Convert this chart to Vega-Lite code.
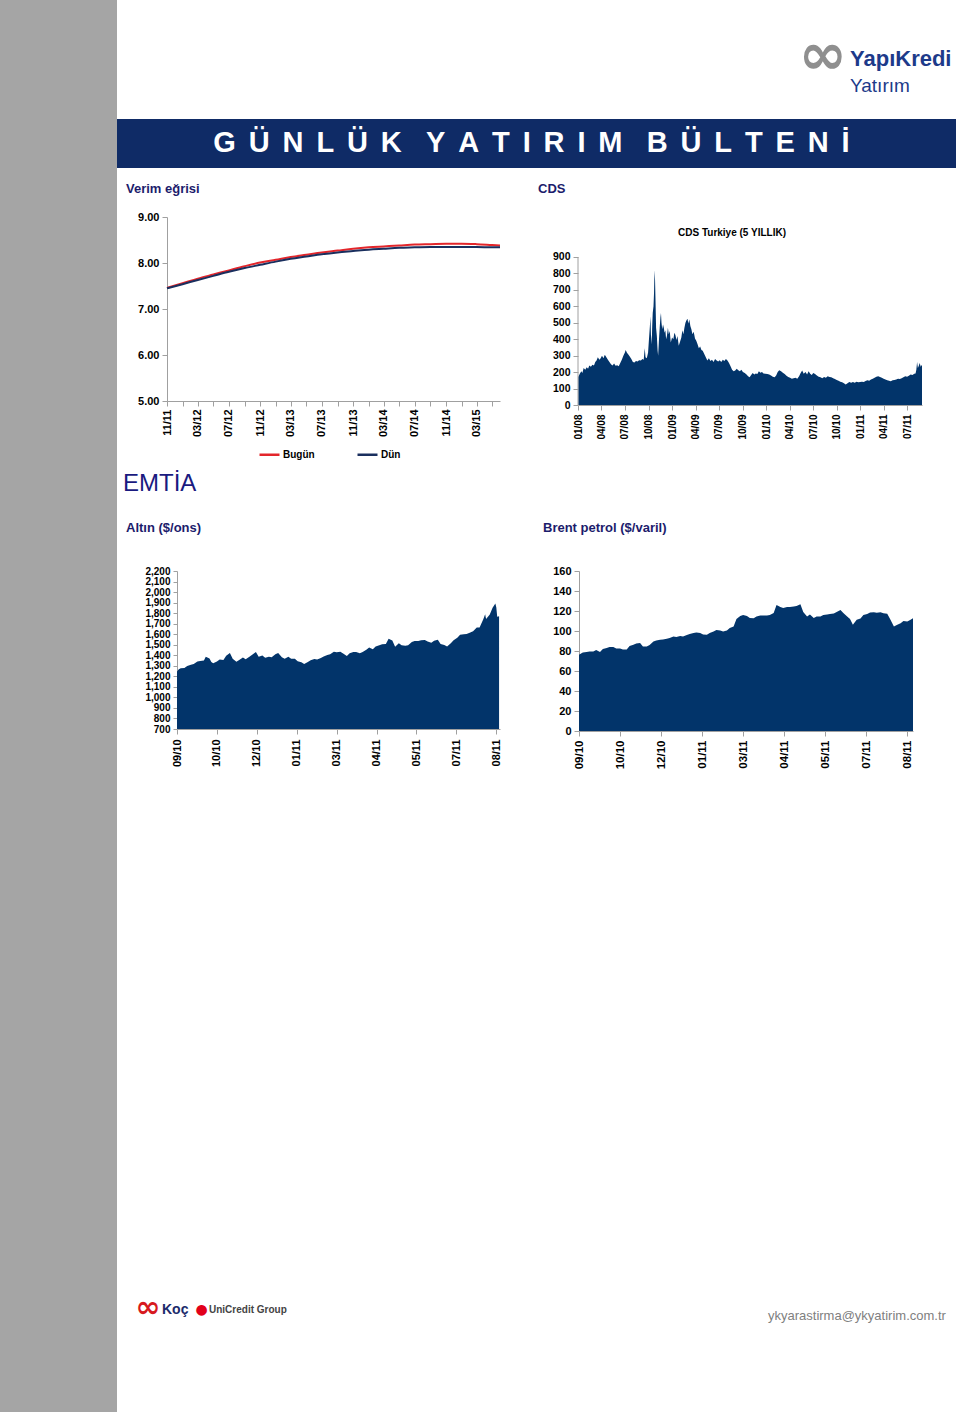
{
"$schema": "https://vega.github.io/schema/vega-lite/v6.json",
"padding": 0,
"background": "white",
"columns": 2,
"spacing": 0,
"bounds": "full",
"align": "each",
"data": {"values": [{"k": 0}]},
"datasets": {
"verim": [
{"d":"2011-11-01","s":"Bugün","v":7.46},{"d":"2012-01-01","s":"Bugün","v":7.56},{"d":"2012-03-01","s":"Bugün","v":7.66},{"d":"2012-05-01","s":"Bugün","v":7.75},{"d":"2012-07-01","s":"Bugün","v":7.84},{"d":"2012-09-01","s":"Bugün","v":7.93},{"d":"2012-11-01","s":"Bugün","v":8.01},{"d":"2013-01-01","s":"Bugün","v":8.07},{"d":"2013-03-01","s":"Bugün","v":8.13},{"d":"2013-05-01","s":"Bugün","v":8.18},{"d":"2013-07-01","s":"Bugün","v":8.23},{"d":"2013-09-01","s":"Bugün","v":8.27},{"d":"2013-11-01","s":"Bugün","v":8.31},{"d":"2014-01-01","s":"Bugün","v":8.34},{"d":"2014-03-01","s":"Bugün","v":8.36},{"d":"2014-05-01","s":"Bugün","v":8.38},{"d":"2014-07-01","s":"Bugün","v":8.40},{"d":"2014-09-01","s":"Bugün","v":8.41},{"d":"2014-11-01","s":"Bugün","v":8.42},{"d":"2015-01-01","s":"Bugün","v":8.42},{"d":"2015-03-01","s":"Bugün","v":8.41},{"d":"2015-05-01","s":"Bugün","v":8.39},{"d":"2015-06-01","s":"Bugün","v":8.38},
{"d":"2011-11-01","s":"Dün","v":7.45},{"d":"2012-01-01","s":"Dün","v":7.54},{"d":"2012-03-01","s":"Dün","v":7.63},{"d":"2012-05-01","s":"Dün","v":7.72},{"d":"2012-07-01","s":"Dün","v":7.81},{"d":"2012-09-01","s":"Dün","v":7.89},{"d":"2012-11-01","s":"Dün","v":7.96},{"d":"2013-01-01","s":"Dün","v":8.03},{"d":"2013-03-01","s":"Dün","v":8.09},{"d":"2013-05-01","s":"Dün","v":8.14},{"d":"2013-07-01","s":"Dün","v":8.19},{"d":"2013-09-01","s":"Dün","v":8.23},{"d":"2013-11-01","s":"Dün","v":8.26},{"d":"2014-01-01","s":"Dün","v":8.29},{"d":"2014-03-01","s":"Dün","v":8.31},{"d":"2014-05-01","s":"Dün","v":8.33},{"d":"2014-07-01","s":"Dün","v":8.34},{"d":"2014-09-01","s":"Dün","v":8.35},{"d":"2014-11-01","s":"Dün","v":8.35},{"d":"2015-01-01","s":"Dün","v":8.35},{"d":"2015-03-01","s":"Dün","v":8.35},{"d":"2015-05-01","s":"Dün","v":8.34},{"d":"2015-06-01","s":"Dün","v":8.34}
],
"cds": [
{"d":"2008-01-02","v":170},{"d":"2008-01-08","v":190},{"d":"2008-01-14","v":205},{"d":"2008-01-18","v":195},{"d":"2008-01-23","v":225},{"d":"2008-01-29","v":215},{"d":"2008-02-04","v":230},{"d":"2008-02-09","v":220},{"d":"2008-02-14","v":240},{"d":"2008-02-20","v":232},{"d":"2008-02-26","v":245},{"d":"2008-03-03","v":240},{"d":"2008-03-08","v":262},{"d":"2008-03-13","v":270},{"d":"2008-03-18","v":290},{"d":"2008-03-24","v":275},{"d":"2008-03-29","v":285},{"d":"2008-04-03","v":300},{"d":"2008-04-09","v":285},{"d":"2008-04-14","v":305},{"d":"2008-04-20","v":290},{"d":"2008-04-26","v":275},{"d":"2008-05-02","v":262},{"d":"2008-05-08","v":248},{"d":"2008-05-14","v":240},{"d":"2008-05-20","v":252},{"d":"2008-05-26","v":238},{"d":"2008-06-01","v":242},{"d":"2008-06-07","v":236},{"d":"2008-06-13","v":255},{"d":"2008-06-19","v":275},{"d":"2008-06-25","v":300},{"d":"2008-07-01","v":320},{"d":"2008-07-04","v":335},{"d":"2008-07-09","v":318},{"d":"2008-07-15","v":305},{"d":"2008-07-21","v":292},{"d":"2008-07-26","v":280},{"d":"2008-08-01","v":262},{"d":"2008-08-07","v":258},{"d":"2008-08-13","v":268},{"d":"2008-08-19","v":265},{"d":"2008-08-25","v":272},{"d":"2008-09-01","v":270},{"d":"2008-09-07","v":280},{"d":"2008-09-12","v":275},{"d":"2008-09-16","v":345},{"d":"2008-09-19","v":290},{"d":"2008-09-24","v":285},{"d":"2008-09-29","v":320},{"d":"2008-10-02","v":390},{"d":"2008-10-06","v":480},{"d":"2008-10-08","v":540},{"d":"2008-10-10","v":430},{"d":"2008-10-13","v":370},{"d":"2008-10-15","v":480},{"d":"2008-10-17","v":560},{"d":"2008-10-20","v":600},{"d":"2008-10-22","v":680},{"d":"2008-10-24","v":820},{"d":"2008-10-26","v":760},{"d":"2008-10-28","v":620},{"d":"2008-10-30","v":470},{"d":"2008-11-02","v":420},{"d":"2008-11-05","v":330},{"d":"2008-11-07","v":300},{"d":"2008-11-10","v":390},{"d":"2008-11-13","v":470},{"d":"2008-11-16","v":535},{"d":"2008-11-18","v":560},{"d":"2008-11-20","v":500},{"d":"2008-11-23","v":460},{"d":"2008-11-26","v":490},{"d":"2008-11-29","v":470},{"d":"2008-12-02","v":440},{"d":"2008-12-05","v":455},{"d":"2008-12-08","v":400},{"d":"2008-12-11","v":420},{"d":"2008-12-15","v":470},{"d":"2008-12-18","v":430},{"d":"2008-12-22","v":450},{"d":"2008-12-26","v":380},{"d":"2008-12-31","v":410},{"d":"2009-01-05","v":400},{"d":"2009-01-09","v":440},{"d":"2009-01-13","v":425},{"d":"2009-01-17","v":395},{"d":"2009-01-21","v":420},{"d":"2009-01-26","v":360},{"d":"2009-01-31","v":385},{"d":"2009-02-05","v":410},{"d":"2009-02-09","v":455},{"d":"2009-02-13","v":430},{"d":"2009-02-17","v":470},{"d":"2009-02-21","v":500},{"d":"2009-02-25","v":515},{"d":"2009-03-01","v":525},{"d":"2009-03-04","v":495},{"d":"2009-03-08","v":520},{"d":"2009-03-12","v":480},{"d":"2009-03-16","v":460},{"d":"2009-03-20","v":430},{"d":"2009-03-25","v":445},{"d":"2009-03-30","v":405},{"d":"2009-04-04","v":390},{"d":"2009-04-09","v":370},{"d":"2009-04-14","v":345},{"d":"2009-04-19","v":355},{"d":"2009-04-24","v":335},{"d":"2009-04-29","v":330},{"d":"2009-05-05","v":310},{"d":"2009-05-11","v":290},{"d":"2009-05-17","v":270},{"d":"2009-05-23","v":285},{"d":"2009-05-29","v":268},{"d":"2009-06-04","v":275},{"d":"2009-06-10","v":262},{"d":"2009-06-16","v":280},{"d":"2009-06-22","v":270},{"d":"2009-06-28","v":265},{"d":"2009-07-04","v":272},{"d":"2009-07-10","v":262},{"d":"2009-07-16","v":275},{"d":"2009-07-22","v":268},{"d":"2009-07-28","v":280},{"d":"2009-08-03","v":270},{"d":"2009-08-09","v":255},{"d":"2009-08-15","v":235},{"d":"2009-08-21","v":215},{"d":"2009-08-27","v":205},{"d":"2009-09-02","v":210},{"d":"2009-09-08","v":220},{"d":"2009-09-14","v":212},{"d":"2009-09-20","v":205},{"d":"2009-09-26","v":215},{"d":"2009-10-02","v":200},{"d":"2009-10-09","v":195},{"d":"2009-10-16","v":185},{"d":"2009-10-22","v":175},{"d":"2009-10-28","v":168},{"d":"2009-11-03","v":182},{"d":"2009-11-09","v":195},{"d":"2009-11-15","v":185},{"d":"2009-11-21","v":192},{"d":"2009-11-27","v":188},{"d":"2009-12-03","v":205},{"d":"2009-12-09","v":196},{"d":"2009-12-15","v":200},{"d":"2009-12-21","v":192},{"d":"2009-12-28","v":190},{"d":"2010-01-05","v":188},{"d":"2010-01-12","v":186},{"d":"2010-01-19","v":180},{"d":"2010-01-26","v":172},{"d":"2010-02-02","v":168},{"d":"2010-02-08","v":180},{"d":"2010-02-14","v":200},{"d":"2010-02-20","v":212},{"d":"2010-02-27","v":205},{"d":"2010-03-06","v":196},{"d":"2010-03-13","v":188},{"d":"2010-03-20","v":178},{"d":"2010-03-27","v":170},{"d":"2010-04-03","v":165},{"d":"2010-04-10","v":160},{"d":"2010-04-17","v":162},{"d":"2010-04-24","v":165},{"d":"2010-05-01","v":160},{"d":"2010-05-08","v":175},{"d":"2010-05-14","v":195},{"d":"2010-05-20","v":210},{"d":"2010-05-26","v":190},{"d":"2010-06-02","v":200},{"d":"2010-06-08","v":185},{"d":"2010-06-14","v":205},{"d":"2010-06-20","v":190},{"d":"2010-06-26","v":182},{"d":"2010-07-02","v":195},{"d":"2010-07-09","v":188},{"d":"2010-07-16","v":180},{"d":"2010-07-23","v":172},{"d":"2010-07-30","v":168},{"d":"2010-08-06","v":162},{"d":"2010-08-13","v":170},{"d":"2010-08-20","v":165},{"d":"2010-08-27","v":175},{"d":"2010-09-03","v":170},{"d":"2010-09-10","v":168},{"d":"2010-09-17","v":162},{"d":"2010-09-24","v":158},{"d":"2010-10-01","v":152},{"d":"2010-10-08","v":148},{"d":"2010-10-15","v":142},{"d":"2010-10-22","v":138},{"d":"2010-10-29","v":132},{"d":"2010-11-05","v":125},{"d":"2010-11-12","v":132},{"d":"2010-11-19","v":140},{"d":"2010-11-26","v":135},{"d":"2010-12-03","v":140},{"d":"2010-12-10","v":136},{"d":"2010-12-17","v":142},{"d":"2010-12-24","v":138},{"d":"2010-12-31","v":140},{"d":"2011-01-07","v":142},{"d":"2011-01-14","v":140},{"d":"2011-01-21","v":146},{"d":"2011-01-28","v":150},{"d":"2011-02-04","v":148},{"d":"2011-02-11","v":155},{"d":"2011-02-18","v":160},{"d":"2011-02-25","v":165},{"d":"2011-03-04","v":172},{"d":"2011-03-11","v":175},{"d":"2011-03-18","v":170},{"d":"2011-03-25","v":165},{"d":"2011-04-01","v":160},{"d":"2011-04-08","v":155},{"d":"2011-04-15","v":150},{"d":"2011-04-22","v":148},{"d":"2011-04-29","v":145},{"d":"2011-05-06","v":150},{"d":"2011-05-13","v":152},{"d":"2011-05-20","v":155},{"d":"2011-05-27","v":160},{"d":"2011-06-03","v":158},{"d":"2011-06-10","v":162},{"d":"2011-06-17","v":168},{"d":"2011-06-24","v":175},{"d":"2011-07-01","v":172},{"d":"2011-07-08","v":178},{"d":"2011-07-15","v":185},{"d":"2011-07-22","v":182},{"d":"2011-07-29","v":190},{"d":"2011-08-03","v":192},{"d":"2011-08-06","v":215},{"d":"2011-08-09","v":262},{"d":"2011-08-12","v":225},{"d":"2011-08-16","v":240},{"d":"2011-08-19","v":255},{"d":"2011-08-23","v":232},{"d":"2011-08-28","v":245}
],
"altin": [
{"d":"2010-09-13","v":1246},{"d":"2010-09-15","v":1268},{"d":"2010-09-17","v":1276},{"d":"2010-09-21","v":1279},{"d":"2010-09-24","v":1297},{"d":"2010-09-28","v":1309},{"d":"2010-10-01","v":1317},{"d":"2010-10-05","v":1340},{"d":"2010-10-08","v":1346},{"d":"2010-10-12","v":1350},{"d":"2010-10-14","v":1385},{"d":"2010-10-18","v":1370},{"d":"2010-10-20","v":1336},{"d":"2010-10-22","v":1325},{"d":"2010-10-26","v":1340},{"d":"2010-10-29","v":1359},{"d":"2010-11-02","v":1354},{"d":"2010-11-05","v":1396},{"d":"2010-11-09","v":1421},{"d":"2010-11-12","v":1368},{"d":"2010-11-16","v":1338},{"d":"2010-11-19","v":1355},{"d":"2010-11-23","v":1379},{"d":"2010-11-26","v":1362},{"d":"2010-11-30","v":1386},{"d":"2010-12-03","v":1405},{"d":"2010-12-07","v":1431},{"d":"2010-12-10","v":1387},{"d":"2010-12-14","v":1398},{"d":"2010-12-17","v":1376},{"d":"2010-12-21","v":1385},{"d":"2010-12-24","v":1381},{"d":"2010-12-28","v":1409},{"d":"2010-12-31","v":1421},{"d":"2011-01-04","v":1380},{"d":"2011-01-07","v":1368},{"d":"2011-01-11","v":1385},{"d":"2011-01-14","v":1367},{"d":"2011-01-18","v":1366},{"d":"2011-01-21","v":1343},{"d":"2011-01-25","v":1333},{"d":"2011-01-28","v":1318},{"d":"2011-02-01","v":1336},{"d":"2011-02-04","v":1353},{"d":"2011-02-08","v":1364},{"d":"2011-02-11","v":1361},{"d":"2011-02-15","v":1373},{"d":"2011-02-18","v":1388},{"d":"2011-02-22","v":1402},{"d":"2011-02-25","v":1410},{"d":"2011-03-01","v":1433},{"d":"2011-03-04","v":1429},{"d":"2011-03-08","v":1433},{"d":"2011-03-11","v":1416},{"d":"2011-03-15","v":1394},{"d":"2011-03-18","v":1418},{"d":"2011-03-22","v":1432},{"d":"2011-03-25","v":1431},{"d":"2011-03-29","v":1418},{"d":"2011-04-01","v":1430},{"d":"2011-04-05","v":1452},{"d":"2011-04-08","v":1474},{"d":"2011-04-12","v":1456},{"d":"2011-04-15","v":1484},{"d":"2011-04-19","v":1495},{"d":"2011-04-22","v":1504},{"d":"2011-04-26","v":1508},{"d":"2011-04-29","v":1556},{"d":"2011-05-03","v":1540},{"d":"2011-05-06","v":1480},{"d":"2011-05-10","v":1515},{"d":"2011-05-13","v":1495},{"d":"2011-05-17","v":1490},{"d":"2011-05-20","v":1494},{"d":"2011-05-24","v":1526},{"d":"2011-05-27","v":1536},{"d":"2011-05-31","v":1536},{"d":"2011-06-03","v":1543},{"d":"2011-06-07","v":1545},{"d":"2011-06-10","v":1530},{"d":"2011-06-14","v":1520},{"d":"2011-06-17","v":1539},{"d":"2011-06-21","v":1547},{"d":"2011-06-24","v":1507},{"d":"2011-06-28","v":1498},{"d":"2011-07-01","v":1483},{"d":"2011-07-05","v":1515},{"d":"2011-07-08","v":1542},{"d":"2011-07-12","v":1567},{"d":"2011-07-15","v":1594},{"d":"2011-07-19","v":1600},{"d":"2011-07-22","v":1601},{"d":"2011-07-26","v":1617},{"d":"2011-07-29","v":1628},{"d":"2011-08-02","v":1663},{"d":"2011-08-05","v":1664},{"d":"2011-08-09","v":1743},{"d":"2011-08-11","v":1790},{"d":"2011-08-12","v":1745},{"d":"2011-08-16","v":1786},{"d":"2011-08-19","v":1852},{"d":"2011-08-22","v":1891},{"d":"2011-08-23","v":1856},{"d":"2011-08-24","v":1765},{"d":"2011-08-26","v":1770}
],
"brent": [
{"d":"2010-09-13","v":76.3},{"d":"2010-09-17","v":78.5},{"d":"2010-09-21","v":79},{"d":"2010-09-24","v":79.5},{"d":"2010-09-28","v":79.6},{"d":"2010-10-01","v":81},{"d":"2010-10-05","v":79},{"d":"2010-10-08","v":82},{"d":"2010-10-12","v":83},{"d":"2010-10-15","v":84},{"d":"2010-10-19","v":84},{"d":"2010-10-22","v":82.5},{"d":"2010-10-26","v":82.5},{"d":"2010-10-29","v":81.5},{"d":"2010-11-02","v":81.5},{"d":"2010-11-05","v":85},{"d":"2010-11-09","v":86.2},{"d":"2010-11-12","v":87.5},{"d":"2010-11-16","v":88},{"d":"2010-11-19","v":84.5},{"d":"2010-11-23","v":84.5},{"d":"2010-11-26","v":86},{"d":"2010-11-30","v":89.6},{"d":"2010-12-03","v":90.5},{"d":"2010-12-07","v":91.2},{"d":"2010-12-10","v":91.5},{"d":"2010-12-14","v":92.2},{"d":"2010-12-17","v":93},{"d":"2010-12-21","v":94.6},{"d":"2010-12-24","v":94},{"d":"2010-12-28","v":95},{"d":"2010-12-31","v":94.5},{"d":"2011-01-04","v":96},{"d":"2011-01-07","v":97},{"d":"2011-01-11","v":98},{"d":"2011-01-14","v":98.5},{"d":"2011-01-18","v":98},{"d":"2011-01-21","v":96.5},{"d":"2011-01-25","v":96.2},{"d":"2011-01-28","v":98},{"d":"2011-02-01","v":99.5},{"d":"2011-02-04","v":101},{"d":"2011-02-08","v":100.5},{"d":"2011-02-11","v":99.5},{"d":"2011-02-15","v":100.5},{"d":"2011-02-18","v":103},{"d":"2011-02-22","v":104.5},{"d":"2011-02-25","v":112},{"d":"2011-03-01","v":115},{"d":"2011-03-04","v":116},{"d":"2011-03-08","v":115},{"d":"2011-03-11","v":113},{"d":"2011-03-15","v":112.8},{"d":"2011-03-18","v":114.5},{"d":"2011-03-22","v":115.5},{"d":"2011-03-25","v":115.5},{"d":"2011-03-29","v":115.5},{"d":"2011-04-01","v":116},{"d":"2011-04-05","v":118},{"d":"2011-04-08","v":126},{"d":"2011-04-12","v":124},{"d":"2011-04-15","v":123},{"d":"2011-04-19","v":124},{"d":"2011-04-22","v":124},{"d":"2011-04-26","v":124.5},{"d":"2011-04-29","v":125},{"d":"2011-05-03","v":126.8},{"d":"2011-05-06","v":119},{"d":"2011-05-10","v":114.5},{"d":"2011-05-13","v":116.5},{"d":"2011-05-17","v":113},{"d":"2011-05-20","v":114.5},{"d":"2011-05-24","v":114.5},{"d":"2011-05-27","v":116},{"d":"2011-05-31","v":116.4},{"d":"2011-06-03","v":117},{"d":"2011-06-07","v":117.5},{"d":"2011-06-10","v":119},{"d":"2011-06-14","v":121},{"d":"2011-06-17","v":118},{"d":"2011-06-21","v":114.5},{"d":"2011-06-24","v":112},{"d":"2011-06-27","v":106.2},{"d":"2011-07-01","v":111.2},{"d":"2011-07-05","v":112.5},{"d":"2011-07-08","v":116},{"d":"2011-07-12","v":117},{"d":"2011-07-15","v":118.5},{"d":"2011-07-19","v":118.8},{"d":"2011-07-22","v":118.2},{"d":"2011-07-26","v":118.8},{"d":"2011-07-29","v":117.8},{"d":"2011-08-02","v":117.3},{"d":"2011-08-05","v":112},{"d":"2011-08-09","v":104.5},{"d":"2011-08-12","v":106},{"d":"2011-08-16","v":107.8},{"d":"2011-08-19","v":110},{"d":"2011-08-23","v":109.5},{"d":"2011-08-26","v":111},{"d":"2011-08-29","v":112.8}
]
},
"config": {
"view": {"stroke": null},
"font": "Liberation Sans",
"text": {"font": "Liberation Sans"},
"axis": {"labelFont": "Liberation Sans", "labelFontWeight": "bold", "labelColor": "#000000", "domainColor": "#a0a0a0", "tickColor": "#a0a0a0", "grid": false, "tickSize": 5, "labelPadding": 3, "labelFlush": false, "labelOverlap": false}
},
"concat": [
{"width":117,"height":1412,"view":{"fill":"#a5a5a5"},"mark":{"type":"text","text":""}},
{"concat": [
 {"concat": [
  {"width":681,"height":119,"mark":{"type":"text","text":""}},
  {"width":150,"height":119,"layer":[
   {"mark":{"type":"text","text":"∞","align":"center","baseline":"middle","dx":-50,"dy":-3,"font":"DejaVu Sans","fontWeight":"bold","fontSize":58,"color":"#8f8f8f"}},
   {"mark":{"type":"text","text":"YapıKredi","align":"left","baseline":"middle","dx":-23,"dy":-1,"font":"Liberation Sans","fontWeight":"bold","fontSize":22,"color":"#1d3a8a"}},
   {"mark":{"type":"text","text":"Yatırım","align":"left","baseline":"middle","dx":-23,"dy":26,"font":"Liberation Sans","fontSize":19,"color":"#1d3a8a"}}
  ]}
 ], "columns": 2, "spacing": 0, "bounds": "flush", "align": "each"},
 {"concat": [
  {"width":839,"height":49,"view":{"fill":"#0f2b66"},"mark":{"type":"text","text":"G\u00a0\u2006Ü\u00a0\u2006N\u00a0\u2006L\u00a0\u2006Ü\u00a0\u2006K\u00a0\u00a0\u00a0Y\u00a0\u2006A\u00a0\u2006T\u00a0\u2006I\u00a0\u2006R\u00a0\u2006I\u00a0\u2006M\u00a0\u00a0\u00a0B\u00a0\u2006Ü\u00a0\u2006L\u00a0\u2006T\u00a0\u2006E\u00a0\u2006N\u00a0\u2006İ","align":"center","baseline":"middle","dx":-5,"dy":-1,"fontSize":29,"fontWeight":"bold","color":"#ffffff"}}
 ], "columns": 1, "spacing": 0, "bounds": "flush", "align": "each"},
 {"concat": [
  {"width":50,"height":42.5,"mark":{"type":"text","text":"Verim eğrisi","align":"left","baseline":"middle","dx":-16,"dy":-0.5,"fontSize":13,"fontWeight":"bold","color":"#1c1c6c"}},
  {"width":333,"height":42.5,"mark":{"type":"text","text":""}},
  {"width":78,"height":42.5,"mark":{"type":"text","text":"CDS","align":"left","baseline":"middle","dx":-1,"dy":-0.5,"fontSize":13,"fontWeight":"bold","color":"#1c1c6c"}}
 ], "columns": 3, "spacing": 0, "bounds": "flush", "align": "each"},
 {"concat": [
  {"width":50,"height":248,"mark":{"type":"text","text":""}},
  {"width":333,"height":184,"data":{"name":"verim"},
   "mark":{"type":"line","interpolate":"monotone","strokeWidth":2},
   "encoding":{
    "x":{"field":"d","type":"temporal","title":null,
         "scale":{"type":"utc","domain":[{"year":2011,"month":11,"date":1,"utc":true},{"year":2015,"month":6,"date":1,"utc":true}]},
         "axis":{"tickCount":{"interval":"month","step":2},"labelExpr":"utcmonth(datum.value) % 4 == 2 ? utcFormat(datum.value, '%m/%y') : ''","labelAngle":-90,"labelFontSize":11,"labelPadding":3}},
    "y":{"field":"v","type":"quantitative","title":null,"scale":{"domain":[5,9],"nice":false,"zero":false},
         "axis":{"values":[5,6,7,8,9],"format":".2f","labelFontSize":11}},
    "color":{"field":"s","type":"nominal","scale":{"domain":["Bugün","Dün"],"range":["#e3262b","#1a2f5e"]},
         "legend":{"orient":"none","legendX":258,"legendY":443,"direction":"horizontal","title":null,"symbolType":"stroke","symbolStrokeWidth":2.5,"symbolSize":400,"labelFontSize":10,"labelFontWeight":"bold","labelFont":"Liberation Sans","labelColor":"#000000","columnPadding":37,"labelOffset":2,"padding":0}}
   }},
  {"width":78,"height":248,"mark":{"type":"text","text":""}},
  {"width":344,"height":188,"data":{"name":"cds"},
   "layer":[
    {"mark":{"type":"area","color":"#02346a"},
     "encoding":{
      "x":{"field":"d","type":"temporal","title":null,
           "scale":{"type":"utc","domain":[{"year":2008,"month":1,"date":1,"utc":true},{"year":2011,"month":8,"date":28,"utc":true}]},
           "axis":{"tickCount":{"interval":"month","step":3},"labelExpr":"utcFormat(datum.value, '%m/%y')","labelAngle":-90,"labelFontSize":10,"labelPadding":4,"labelOverlap":false}},
      "y":{"field":"v","type":"quantitative","title":null,"scale":{"domain":[0,1143.24],"nice":false,"zero":true},
           "axis":{"values":[0,100,200,300,400,500,600,700,800,900],"format":"d","labelFontSize":10.5,"domain":false,"labelOverlap":false}}
     }},
    {"data":{"values":[{"k":0}]},"mark":{"type":"rule","color":"#a0a0a0","strokeWidth":1},
     "encoding":{
      "x":{"datum":{"year":2008,"month":1,"date":1,"utc":true},"type":"temporal","title":null,
           "axis":{"tickCount":{"interval":"month","step":3},"labelExpr":"utcFormat(datum.value, '%m/%y')","labelAngle":-90,"labelFontSize":10,"labelPadding":4,"labelOverlap":false}},
      "y":{"datum":0,"type":"quantitative","title":null,
           "axis":{"values":[0,100,200,300,400,500,600,700,800,900],"format":"d","labelFontSize":10.5,"domain":false,"labelOverlap":false}},
      "y2":{"datum":900}}},
    {"data":{"values":[{"k":0}]},"mark":{"type":"text","text":"CDS Turkiye (5 YILLIK)","align":"center","baseline":"middle","dx":-18,"dy":-78,"fontSize":10,"fontWeight":"bold","color":"#000000"}}
   ]}
 ], "columns": 4, "spacing": 0, "bounds": "flush", "align": "each"},
 {"concat": [
  {"width":50,"height":99.5,"layer":[
   {"mark":{"type":"text","text":"EMTİA","align":"left","baseline":"middle","dx":-19,"dy":-30.5,"fontSize":24,"color":"#1a1a80"}},
   {"mark":{"type":"text","text":"Altın ($/ons)","align":"left","baseline":"middle","dx":-16,"dy":13,"fontSize":13,"fontWeight":"bold","color":"#1c1c6c"}}
  ]},
  {"width":333,"height":99.5,"mark":{"type":"text","text":""}},
  {"width":78,"height":99.5,"mark":{"type":"text","text":"Brent petrol ($/varil)","align":"left","baseline":"middle","dx":4,"dy":13,"fontSize":13,"fontWeight":"bold","color":"#1c1c6c"}}
 ], "columns": 3, "spacing": 0, "bounds": "flush", "align": "each"},
 {"concat": [
  {"width":60,"height":205,"mark":{"type":"text","text":""}},
  {"width":323,"height":158,"data":{"name":"altin"},
   "mark":{"type":"area","color":"#02346a","clip":true},
   "encoding":{
    "x":{"field":"d","type":"temporal","title":null,
         "scale":{"type":"utc","domain":[{"year":2010,"month":9,"date":13,"utc":true},{"year":2011,"month":8,"date":27,"utc":true}]},
         "axis":{"values":[{"year":2010,"month":9,"date":13,"utc":true},{"year":2010,"month":10,"date":26,"utc":true},{"year":2010,"month":12,"date":8,"utc":true},{"year":2011,"month":1,"date":20,"utc":true},{"year":2011,"month":3,"date":4,"utc":true},{"year":2011,"month":4,"date":16,"utc":true},{"year":2011,"month":5,"date":29,"utc":true},{"year":2011,"month":7,"date":11,"utc":true},{"year":2011,"month":8,"date":23,"utc":true}],
                 "labelExpr":"utcFormat(datum.value, '%m/%y')","labelAngle":-90,"labelFontSize":11,"labelPadding":5}},
    "y":{"field":"v","type":"quantitative","title":null,"scale":{"domain":[700,2200],"zero":false,"nice":false},
         "axis":{"values":[700,800,900,1000,1100,1200,1300,1400,1500,1600,1700,1800,1900,2000,2100,2200],"format":",.0f","labelFontSize":10,"tickSize":4}}
   }},
  {"width":79,"height":205,"mark":{"type":"text","text":""}},
  {"width":334,"height":160,"data":{"name":"brent"},
   "mark":{"type":"area","color":"#02346a"},
   "encoding":{
    "x":{"field":"d","type":"temporal","title":null,
         "scale":{"type":"utc","domain":[{"year":2010,"month":9,"date":13,"utc":true},{"year":2011,"month":8,"date":29,"utc":true}]},
         "axis":{"values":[{"year":2010,"month":9,"date":13,"utc":true},{"year":2010,"month":10,"date":26,"utc":true},{"year":2010,"month":12,"date":8,"utc":true},{"year":2011,"month":1,"date":20,"utc":true},{"year":2011,"month":3,"date":4,"utc":true},{"year":2011,"month":4,"date":16,"utc":true},{"year":2011,"month":5,"date":29,"utc":true},{"year":2011,"month":7,"date":11,"utc":true},{"year":2011,"month":8,"date":23,"utc":true}],
                 "labelExpr":"utcFormat(datum.value, '%m/%y')","labelAngle":-90,"labelFontSize":11.5,"labelPadding":4}},
    "y":{"field":"v","type":"quantitative","title":null,"scale":{"domain":[0,160],"nice":false},
         "axis":{"values":[0,20,40,60,80,100,120,140,160],"labelFontSize":11}}
   }}
 ], "columns": 4, "spacing": 0, "bounds": "flush", "align": "each"},
 {"concat": [
  {"width":640,"height":636,"layer":[
   {"mark":{"type":"text","text":"∞","align":"center","baseline":"middle","dx":-289,"dy":214,"font":"DejaVu Sans","fontWeight":"bold","fontSize":30,"color":"#d71920"}},
   {"mark":{"type":"text","text":"Koç","align":"left","baseline":"middle","dx":-275,"dy":216,"fontSize":14,"fontWeight":"bold","color":"#1b2a6b"}},
   {"mark":{"type":"text","text":"●","align":"center","baseline":"middle","dx":-235.5,"dy":215.5,"font":"DejaVu Sans","fontSize":14,"color":"#e2001a"}},
   {"mark":{"type":"text","text":"UniCredit Group","align":"left","baseline":"middle","dx":-228,"dy":216,"fontSize":10,"fontWeight":"bold","color":"#444444"}}
  ]},
  {"width":200,"height":636,"mark":{"type":"text","text":"ykyarastirma@ykyatirim.com.tr","align":"left","baseline":"middle","dx":-89,"dy":222,"fontSize":13,"color":"#808080"}}
 ], "columns": 2, "spacing": 0, "bounds": "flush", "align": "each"}
], "columns": 1, "spacing": 0, "bounds": "full", "align": "each"}
]
}
